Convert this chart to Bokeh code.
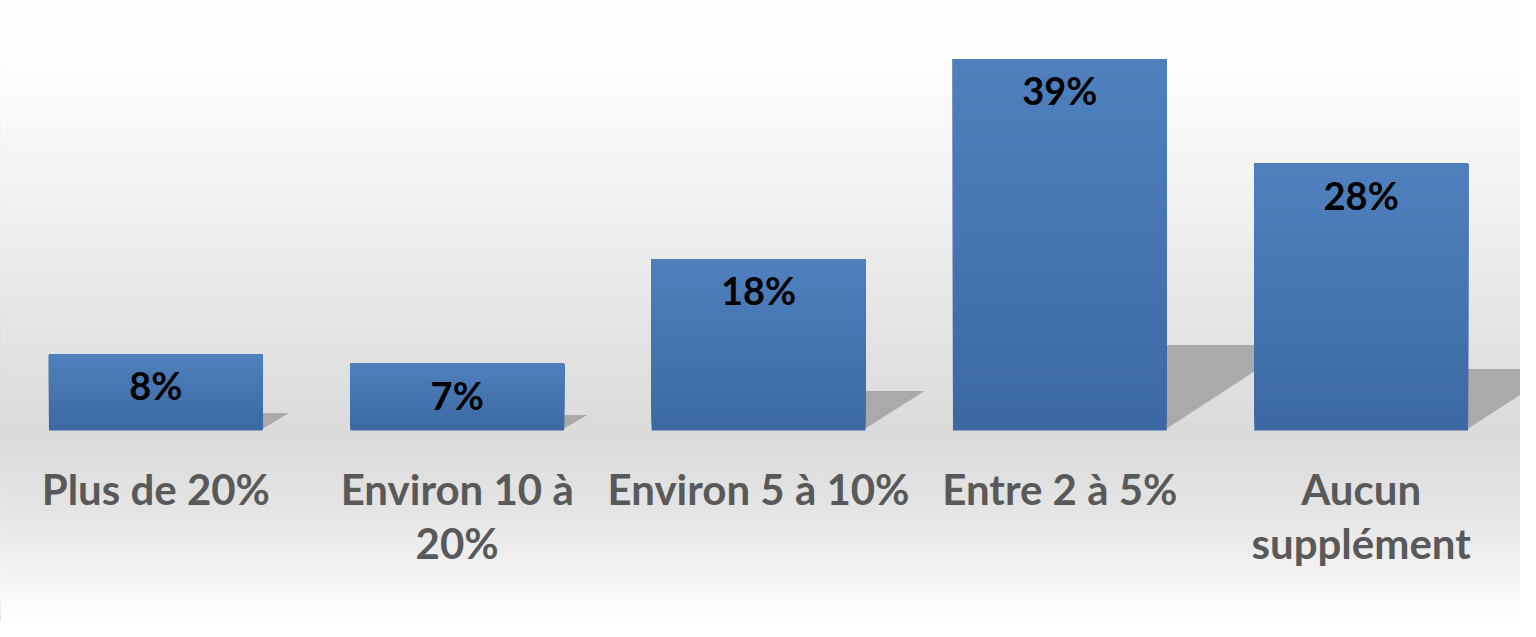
import numpy as np
from bokeh.plotting import figure
from bokeh.models import Range1d
from bokeh.core.properties import value
from bokeh.embed import file_html
from bokeh.resources import INLINE

# ---- data ----
categories = ["Plus de 20%", "Environ 10 à\n20%", "Environ 5 à 10%", "Entre 2 à 5%", "Aucun\nsupplément"]
values = [8, 7, 18, 39, 28]
value_labels = ["8%", "7%", "18%", "39%", "28%"]

# ---- geometry (reference 1536x637 scaled into 1520x621) ----
W, H = 1520, 621
sx, sy = W / 1536, H / 637
pitch = 304.5 * sx            # px per category
x0 = -(157 * sx) / pitch
x1 = x0 + W / pitch
ppu = 9.77 * sy               # px per percent
base_px = 441 * sy
y1 = base_px / ppu
y0 = y1 - H / ppu
bw = 216 / 304.5

p = figure(width=W, height=H, output_backend="svg", toolbar_location=None,
           x_range=Range1d(x0, x1), y_range=Range1d(y0, y1), min_border=0)
p.axis.visible = False
p.grid.visible = False
p.outline_line_color = "#d4d4d4"
p.background_fill_color = "white"
p.border_fill_color = "white"

# ---- background gradient (white -> grey -> white) ----
stops_py = [0, 60, 200, 320, 445, 530, 637]
stops_g = [255, 254, 242, 230, 219, 230, 255]
N = 140
edges = np.linspace(y0, y1, N + 1)
bot = edges[:-1]
mid_py = (base_px - (bot + (y1 - y0) / N / 2) * ppu) / sy
g = np.interp(mid_py, stops_py, stops_g).astype(int)
cols = ["#%02x%02x%02x" % (v, v, v) for v in g]
p.quad(left=x0, right=x1, bottom=bot, top=y1, fill_color=cols, line_color=None)

# ---- shadows ----
xs, ys = [], []
for i, v in enumerate(values):
    hs = 0.23 * v
    dx = 1.5 * hs * ppu / pitch
    R = i + bw / 2
    xs.append([R - 0.01, R - 0.01, R + dx])
    ys.append([0, hs, hs])
p.patches(xs=xs, ys=ys, fill_color="#aaaaaa", line_color=None)

# ---- bars with vertical gradient ----
top_c = np.array([0x50, 0x81, 0xbe])
bot_c = np.array([0x3c, 0x69, 0xa3])
NB = 40
L, Rr, B, T, C = [], [], [], [], []
for k in range(NB):
    t = (k + 0.5) / NB
    c = (bot_c + (top_c - bot_c) * t).astype(int)
    for i, v in enumerate(values):
        L.append(i - bw / 2); Rr.append(i + bw / 2)
        B.append(v * k / NB); T.append(v)
        C.append("#%02x%02x%02x" % tuple(c))
p.quad(left=L, right=Rr, bottom=B, top=T, fill_color=C, line_color=None)

# ---- value labels ----
idx = list(range(len(values)))
p.text(x=idx, y=values, text=value_labels, y_offset=31,
       text_align="center", text_baseline="middle",
       text_font=value("Lato"), text_font_style="bold",
       text_font_size="38px", text_color="black")

# ---- category labels ----
line1 = [c.split("\n")[0] for c in categories]
line2 = [c.split("\n")[1] if "\n" in c else "" for c in categories]
zeros = [0] * len(categories)
p.text(x=idx, y=zeros, text=line1, y_offset=59,
       text_align="center", text_baseline="middle",
       text_font=value("Lato"), text_font_style="bold",
       text_font_size="42px", text_color="#595959")
p.text(x=idx, y=zeros, text=line2, y_offset=113,
       text_align="center", text_baseline="middle",
       text_font=value("Lato"), text_font_style="bold",
       text_font_size="42px", text_color="#595959")

open("out.html", "w").write(file_html(p, INLINE))
